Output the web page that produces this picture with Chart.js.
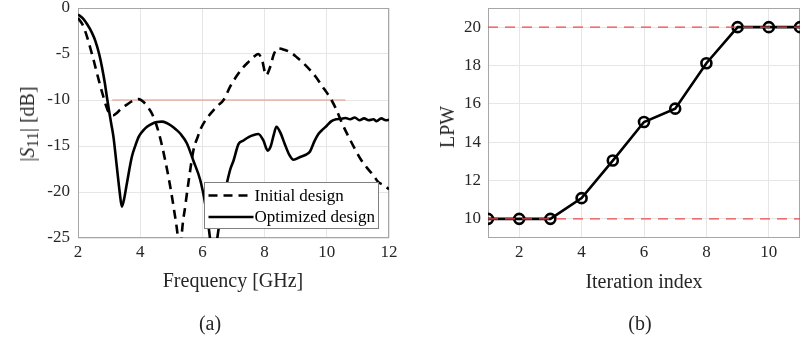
<!DOCTYPE html>
<html><head><meta charset="utf-8">
<script src="https://cdn.jsdelivr.net/npm/chart.js@4.4.0/dist/chart.umd.min.js"></script>
<style>
html,body{margin:0;padding:0;background:#fff;}
#wrap{position:relative;width:802px;height:342px;overflow:hidden;font-family:'Liberation Serif','Times New Roman',serif;color:#262626;}
canvas{position:absolute;top:0;}
.lbl{position:absolute;white-space:nowrap;transform:translate(-50%,-50%);line-height:1;}
.rot{transform:translate(-50%,-50%) rotate(-90deg);}
sub{font-size:0.8em;vertical-align:-0.25em;line-height:0;}
</style></head><body>
<div id="wrap">
<canvas id="c1" width="401" height="342" style="left:0"></canvas>
<canvas id="c2" width="401" height="342" style="left:401px"></canvas>
<div class="lbl rot" style="left:27px;top:124px;font-size:20px">|<i>S</i><sub>11</sub>| [dB]</div>
<div class="lbl" style="left:233px;top:280px;font-size:20px">Frequency [GHz]</div>
<div class="lbl" style="left:210px;top:323px;font-size:20px">(a)</div>
<div class="lbl rot" style="left:447px;top:127px;font-size:20px">LPW</div>
<div class="lbl" style="left:644px;top:281px;font-size:20px">Iteration index</div>
<div class="lbl" style="left:640px;top:323px;font-size:20px">(b)</div>
</div>
<script>
// ---------- (a) |S11| data ----------
const initialFreq = [2.0,2.13,2.25,2.4,2.52,2.61,2.72,2.82,2.9,2.98,3.06,3.14,3.25,3.4,3.57,3.75,3.95,4.1,4.25,4.38,4.5,4.64,4.8,4.96,5.1,5.2,5.285,5.34,5.45,5.55,5.71,5.85,5.95,6.1,6.36,6.5,6.68,6.9,7.1,7.3,7.5,7.65,7.8,7.92,8.05,8.17,8.3,8.42,8.6,8.87,9.05,9.25,9.45,9.65,9.85,10.0,10.15,10.3,10.5,10.7,10.9,11.1,11.3,11.5,11.65,11.85,12.0];
const initialS11 = [-1.1,-1.7,-2.7,-4.4,-5.9,-7.1,-8.5,-9.7,-10.6,-11.3,-11.6,-11.65,-11.4,-10.9,-10.5,-10.1,-9.9,-10.2,-10.8,-11.5,-12.5,-14.1,-16.5,-19.3,-22.2,-24.6,-28,-24.5,-21.5,-19.0,-15.5,-14.0,-13.1,-12.2,-11.1,-10.6,-10.0,-8.5,-7.4,-6.5,-5.8,-5.3,-5.0,-5.7,-7.3,-6.5,-5.0,-4.4,-4.5,-4.9,-5.4,-6.0,-6.7,-7.5,-8.5,-9.2,-10.0,-11.0,-12.6,-14.0,-15.3,-16.5,-17.4,-18.2,-18.9,-19.3,-19.7];
const optimizedFreq = [2.0,2.15,2.3,2.45,2.56,2.68,2.77,2.86,2.93,3.0,3.07,3.14,3.25,3.34,3.41,3.48,3.57,3.73,3.85,3.95,4.1,4.22,4.4,4.54,4.7,4.85,5.0,5.15,5.3,5.5,5.71,5.93,6.09,6.2,6.3,6.36,6.42,6.5,6.57,6.68,6.79,6.9,7.0,7.16,7.32,7.5,7.65,7.8,7.96,8.1,8.2,8.3,8.38,8.5,8.65,8.8,8.93,9.14,9.35,9.46,9.6,9.73,9.87,10.0,10.15,10.3,10.45,10.6,10.75,10.9,11.05,11.2,11.35,11.5,11.6,11.75,11.9,12.0];
const optimizedS11 = [-0.7,-1.1,-1.8,-2.7,-3.6,-5.0,-6.4,-8.1,-9.7,-11.2,-12.6,-14.0,-17.3,-20.0,-21.6,-20.8,-19.1,-16.2,-14.9,-14.0,-13.3,-12.9,-12.55,-12.4,-12.35,-12.5,-12.8,-13.2,-13.7,-14.7,-16.6,-18.7,-21.3,-23.8,-26.5,-27.5,-26.5,-24.5,-23.0,-20.8,-19.0,-17.5,-16.6,-14.8,-14.4,-14.0,-13.8,-13.7,-14.4,-15.5,-15.0,-13.7,-12.9,-13.5,-14.8,-16.0,-16.5,-16.2,-15.9,-15.6,-14.5,-13.7,-13.2,-12.8,-12.3,-12.1,-12.05,-11.95,-12.1,-11.9,-12.2,-12.0,-12.2,-12.1,-12.3,-12.0,-12.2,-12.15];
const thresholdFreq = [3.1, 10.6];
const thresholdS11 = [-10, -10];
const freqTicks = [2,4,6,8,10,12];
const s11Ticks = [-25,-20,-15,-10,-5,0];

// ---------- (b) LPW data ----------
const iterations = [1,2,3,4,5,6,7,8,9,10,11];
const lpw = [10,10,10,11.08,13.04,15.05,15.75,18.12,20,20,20];
const lpwLower = 10;
const lpwUpper = 20;
const iterTicks = [2,4,6,8,10];
const lpwTicks = [10,12,14,16,18,20];

const FONT = "'Liberation Serif','Times New Roman',serif";
const TXT = '#262626';
const GRID = '#e6e6e6';

const toXY = (xs, ys) => xs.map((x, i) => ({x, y: ys[i]}));

const boxPlugin = {
  id: 'box',
  beforeDatasetsDraw(chart) {
    const a = chart.chartArea, ctx = chart.ctx;
    ctx.save();
    ctx.strokeStyle = '#a6a6a6';
    ctx.lineWidth = 1;
    ctx.strokeRect(Math.round(a.left) + 0.5, Math.round(a.top) + 0.5, Math.round(a.right - a.left) - 1, Math.round(a.bottom - a.top) - 1);
    ctx.restore();
  }
};

const legendPlugin = {
  id: 'customLegend',
  afterDraw(chart) {
    const a = chart.chartArea, ctx = chart.ctx;
    const items = chart.data.datasets.filter(d => d.label);
    const w = 174, h = 46;
    const x = Math.round(a.right - 11 - w) + 0.5, y = Math.round(a.bottom - 10 - h) + 0.5;
    ctx.save();
    ctx.fillStyle = '#fff';
    ctx.fillRect(x, y, w, h);
    ctx.strokeStyle = '#808080';
    ctx.lineWidth = 1;
    ctx.strokeRect(x, y, w, h);
    ctx.font = '17px ' + FONT;
    ctx.textBaseline = 'middle';
    ctx.textAlign = 'left';
    items.forEach((d, i) => {
      const ry = y + 13 + i * 21.5;
      ctx.strokeStyle = d.borderColor;
      ctx.lineWidth = d.borderWidth;
      ctx.setLineDash(d.borderDash || []);
      ctx.beginPath();
      ctx.moveTo(x + 4, ry);
      ctx.lineTo(x + 49, ry);
      ctx.stroke();
      ctx.setLineDash([]);
      ctx.fillStyle = '#000';
      ctx.fillText(d.label, x + 50, ry + 1);
    });
    ctx.restore();
  }
};

function scaleX(min, max, ticks, axisH) {
  return {
    type: 'linear', min, max,
    afterBuildTicks: s => { s.ticks = ticks.map(v => ({value: v})); },
    afterFit: s => { s.height = axisH; s.paddingLeft = 0; s.paddingRight = 0; },
    grid: {color: GRID, drawTicks: false, lineWidth: 1},
    border: {display: false},
    ticks: {font: {family: FONT, size: 17}, color: TXT, padding: 4, maxRotation: 0, autoSkip: false, callback: v => String(v)}
  };
}
function scaleY(min, max, ticks, width, pad) {
  return {
    type: 'linear', min, max,
    afterBuildTicks: s => { s.ticks = ticks.map(v => ({value: v})); },
    afterFit: s => { s.width = width; s.paddingTop = 0; s.paddingBottom = 0; },
    grid: {color: GRID, drawTicks: false, lineWidth: 1},
    border: {display: false},
    ticks: {font: {family: FONT, size: 17}, color: TXT, padding: pad, autoSkip: false, callback: v => String(v)}
  };
}

new Chart(document.getElementById('c1'), {
  type: 'line',
  data: {
    datasets: [
      {label: 'Initial design', data: toXY(initialFreq, initialS11), borderColor: '#000', borderWidth: 2.6, borderDash: [9, 6], pointRadius: 0, cubicInterpolationMode: 'monotone', order: 2},
      {label: 'Optimized design', data: toXY(optimizedFreq, optimizedS11), borderColor: '#000', borderWidth: 2.6, pointRadius: 0, cubicInterpolationMode: 'monotone', order: 1},
      {data: toXY(thresholdFreq, thresholdS11), borderColor: '#e8907f', borderWidth: 1.2, pointRadius: 0, order: 3}
    ]
  },
  options: {
    responsive: false, animation: false, devicePixelRatio: 1,
    layout: {autoPadding: false, padding: {top: 8, right: 12, bottom: 0, left: 0}},
    plugins: {legend: {display: false}, tooltip: {enabled: false}},
    scales: {
      x: scaleX(2, 12, freqTicks, 104),
      y: scaleY(-25, 0, s11Ticks, 78, 8)
    }
  },
  plugins: [boxPlugin, legendPlugin]
});

const first = iterations[0], last = iterations[iterations.length - 1];
new Chart(document.getElementById('c2'), {
  type: 'line',
  data: {
    datasets: [
      {data: [{x: first, y: lpwUpper}, {x: last, y: lpwUpper}], borderColor: '#f04848', borderWidth: 1.4, borderDash: [10, 7], pointRadius: 0, order: 1},
      {data: [{x: first, y: lpwLower}, {x: last, y: lpwLower}], borderColor: '#f04848', borderWidth: 1.4, borderDash: [10, 7], pointRadius: 0, order: 1},
      {data: toXY(iterations, lpw), borderColor: '#000', borderWidth: 2.6, pointRadius: 5, pointBorderWidth: 2.6, pointBackgroundColor: 'rgba(0,0,0,0)', pointBorderColor: '#000', order: 2}
    ]
  },
  options: {
    responsive: false, animation: false, devicePixelRatio: 1,
    layout: {autoPadding: false, padding: {top: 8, right: 2, bottom: 0, left: 0}},
    plugins: {legend: {display: false}, tooltip: {enabled: false}},
    scales: {
      x: scaleX(1, 11, iterTicks, 104),
      y: scaleY(9, 21, lpwTicks, 87, 7)
    }
  },
  plugins: [boxPlugin]
});
</script>
</body></html>
